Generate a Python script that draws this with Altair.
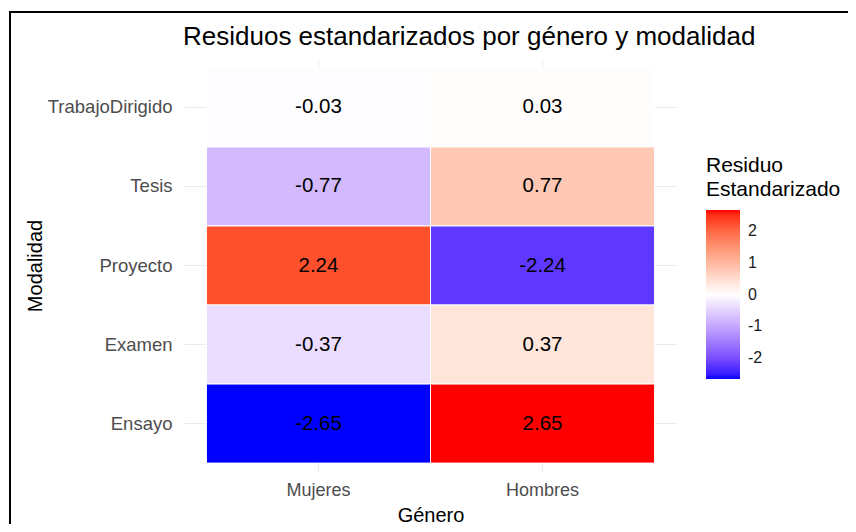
import altair as alt
import pandas as pd

generos = ["Mujeres", "Hombres"]
modalidades = ["TrabajoDirigido", "Tesis", "Proyecto", "Examen", "Ensayo"]
residuos_mujeres = [-0.03, -0.77, 2.24, -0.37, -2.65]
residuos_hombres = [0.03, 0.77, -2.24, 0.37, 2.65]
legend_values = [-2, -1, 0, 1, 2]
titulo = "Residuos estandarizados por género y modalidad"

rows = []
for m, v in zip(modalidades, residuos_mujeres):
    rows.append({"Genero": "Mujeres", "Modalidad": m, "Residuo": v, "Etiqueta": f"{v:.2f}"})
for m, v in zip(modalidades, residuos_hombres):
    rows.append({"Genero": "Hombres", "Modalidad": m, "Residuo": v, "Etiqueta": f"{v:.2f}"})
df = pd.DataFrame(rows)

FONT = "Liberation Sans"
W, H = 493, 411

x_enc = alt.X(
    "Genero:N",
    sort=generos,
    title="Género",
    scale=alt.Scale(paddingInner=0, paddingOuter=0.1),
    axis=alt.Axis(
        orient="bottom", ticks=False, tickSize=0, domain=False, grid=True,
        gridColor="#EBEBEB", gridWidth=1.2, bandPosition=0.5, zindex=0,
        labelFont=FONT, labelFontSize=18, labelColor="#4D4D4D", labelPadding=10,
        labelAngle=0,
        titleFont=FONT, titleFontSize=20, titleFontWeight="normal", titleColor="#000000",
        titleBaseline="middle", titleY=44,
    ),
)
y_enc = alt.Y(
    "Modalidad:N",
    sort=modalidades,
    title="Modalidad",
    scale=alt.Scale(paddingInner=0, paddingOuter=0.1),
    axis=alt.Axis(
        orient="left", ticks=False, tickSize=0, domain=False, grid=True,
        gridColor="#EBEBEB", gridWidth=1.2, bandPosition=0.5, zindex=0,
        labelFont=FONT, labelFontSize=18.5, labelColor="#4D4D4D", labelPadding=12,
        titleFont=FONT, titleFontSize=20, titleFontWeight="normal", titleColor="#000000",
        titleBaseline="middle", titleX=-149, titleAngle=270,
    ),
)

color_enc = alt.Color(
    "Residuo:Q",
    scale=alt.Scale(domain=[-2.65, 0, 2.65], range=["#0000FF", "#FFFFFF", "#FF0000"], interpolate="lab"),
    legend=alt.Legend(
        title=["Residuo", "Estandarizado"],
        orient="none", legendX=522, legendY=95, padding=0,
        direction="vertical", gradientLength=169, gradientThickness=34,
        gradientStrokeWidth=0, values=legend_values,
        labelExpr="replace(datum.label, '\u2212', '-')",
        titleFont=FONT, titleFontSize=21, titleFontWeight="normal", titleColor="#000000",
        titleLineHeight=24, titlePadding=10,
        labelFont=FONT, labelFontSize=16, labelColor="#1A1A1A", labelOffset=8,
    ),
)

base = alt.Chart(df)
tiles = base.mark_rect(stroke="white", strokeWidth=1).encode(x=x_enc, y=y_enc, color=color_enc)
labels = base.mark_text(font=FONT, fontSize=20.5, color="black").encode(
    x=alt.X("Genero:N", sort=generos),
    y=alt.Y("Modalidad:N", sort=modalidades),
    text=alt.Text("Etiqueta:N"),
)

single = alt.Data(values=[{"t": titulo}])
title_mark = alt.Chart(single).mark_text(
    font=FONT, fontSize=26, color="black", align="left", baseline="alphabetic", clip=False
).encode(x=alt.value(-1), y=alt.value(-15), text="t:N")

frame_top = alt.Chart(single).mark_rule(color="black", strokeWidth=2, clip=False).encode(
    x=alt.value(-175), x2=alt.value(700), y=alt.value(-48)
)
frame_left = alt.Chart(single).mark_rule(color="black", strokeWidth=2, clip=False).encode(
    x=alt.value(-174), y=alt.value(-49), y2=alt.value(500)
)

chart = alt.layer(tiles, labels, title_mark, frame_top, frame_left).properties(
    width=W, height=H,
    autosize=alt.AutoSizeParams(type="none"),
    padding={"left": 176, "top": 52, "right": 171, "bottom": 53},
).configure(background="white").configure_view(stroke=None)

chart.save("out.html", embed_options={"renderer": "svg", "actions": False})
